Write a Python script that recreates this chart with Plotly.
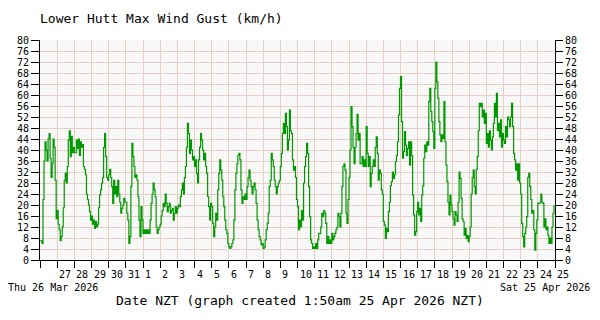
import pandas as pd
import plotly.graph_objects as go

TITLE = "Lower Hutt Max Wind Gust (km/h)"
X_TITLE = "Date NZT (graph created 1:50am 25 Apr 2026 NZT)"
START_LABEL = "Thu 26 Mar 2026"
END_LABEL = "Sat 25 Apr 2026"
START_DATE = "2026-03-26"
END_DATE = "2026-04-25"
PER_DAY = 17  # readings per day

day_labels = ["27", "28", "29", "30", "31", "1", "2", "3", "4", "5", "6", "7", "8", "9",
              "10", "11", "12", "13", "14", "15", "16", "17", "18", "19", "20", "21",
              "22", "23", "24", "25"]
y_ticks = list(range(0, 81, 4))

# gust readings (km/h), 17 per day from 26 Mar
d00 = [7, 7, 6, 22, 36, 43, 40, 36, 44, 46, 37, 30, 35, 44, 41, 29, 15]
d01 = [18, 13, 11, 7, 8.5, 12, 19, 29, 31.5, 28, 34, 43.6, 47, 37.6, 45, 39, 41]
d02 = [39, 39, 43.6, 40.6, 44, 38, 43, 41, 42, 34, 33, 31, 24, 22, 20, 17.6, 14.5]
d03 = [16, 13, 14.5, 11.5, 14, 12, 13, 19, 23.6, 25.5, 28, 30, 41, 46, 37.6, 30, 29]
d04 = [31, 33, 30, 26.7, 20.6, 29, 24, 26.7, 23, 29, 24, 21, 17, 18.8, 20, 22.4, 21]
d05 = [21, 17, 14.5, 6, 8.5, 26.7, 42.4, 37.6, 34, 30, 31, 29, 23, 14.5, 8.5, 19.4, 14.5]
d06 = [9.7, 11, 9.7, 11, 9.7, 11, 9.7, 14.5, 20.6, 24, 28, 25.5, 23, 12, 9.7, 11, 12]
d07 = [13, 16, 18, 20.6, 19.4, 24, 20.6, 17.6, 19.4, 20.6, 17, 18, 18.8, 14.5, 17, 19.4, 17]
d08 = [18.8, 20, 19.4, 23, 25.5, 28, 24, 30, 34, 41, 49.7, 46, 38.8, 43.6, 40, 36.4, 37.6]
d09 = [34, 36.4, 31.5, 28, 36.4, 41, 46, 43.6, 40, 36.4, 38.8, 34, 31.5, 23, 19.4, 14.5, 20.6]
d10 = [19.4, 13.3, 8.5, 12, 17, 14.5, 25.5, 31.5, 36.4, 32.7, 29, 23, 19.4, 14.5, 11, 9.7, 6]
d11 = [4.8, 4.2, 4.8, 6, 7.3, 14.5, 25.5, 31.5, 35, 38, 38.8, 36.4, 25.5, 20.6, 23, 22, 24]
d12 = [22, 26.7, 30, 32.7, 29, 26.7, 24, 26.7, 28, 25.5, 20.6, 14.5, 11, 8.5, 7.3, 5.5, 6]
d13 = [4.2, 4.8, 7.3, 11, 13.3, 17, 26.7, 29, 38.8, 36.4, 34, 29, 26.7, 24, 26.7, 28, 29]
d14 = [34, 38.8, 46, 49.7, 46, 53.3, 48.5, 40, 43.6, 54.5, 47, 46, 36.4, 32.7, 34, 30, 22]
d15 = [19.4, 11, 14.5, 12, 18, 14.5, 28, 34, 37.6, 42.4, 38.8, 26.7, 15.8, 7.3, 6, 4.2, 4.8]
d16 = [4.2, 6, 4.2, 7.3, 9.7, 9.7, 12, 17, 15.8, 18, 17, 13.3, 6, 8.5, 6, 7.3, 6]
d17 = [9.7, 7.3, 8.5, 9.7, 11, 12, 17, 15.8, 12, 17, 26.7, 34, 35, 32.7, 17, 13.3, 22]
d18 = [30, 40, 55.8, 48.5, 41, 35, 41, 46, 53, 43.6, 46, 35, 35, 37.6, 34, 36.4, 34]
d19 = [48.5, 38.8, 34, 37.6, 26.7, 31.5, 34, 36.4, 34, 41, 44.8, 38.8, 29, 32.7, 31.5, 25.5, 24]
d20 = [14, 12.7, 7.9, 11.5, 10.3, 17.6, 21, 27, 28.5, 32, 29.7, 31, 35.8, 38, 43, 52.7, 62.4]
d21 = [66.7, 50.3, 37, 39.4, 46.7, 41.8, 38, 40.6, 43, 34.5, 43, 38, 23.6, 16.4, 9, 10.3, 17.6]
d22 = [21, 16.4, 18.8, 14, 23.6, 27, 37, 41.8, 39.4, 43, 41.8, 57.6, 62.4, 54, 50.3, 46.7, 40.6]
d23 = [62.4, 72, 64.8, 58.8, 50.3, 45.5, 43, 45.5, 44.2, 57.6, 43, 34.5, 28.5, 21, 16.4, 23.6, 20]
d24 = [17.6, 15, 12.7, 17.6, 16.4, 14, 21, 32, 29.7, 22.4, 15, 14, 9, 11.5, 7.9, 9, 6.7]
d25 = [8.5, 12, 24, 30, 32.7, 26.7, 24, 33, 37.6, 47, 57, 55.8, 57, 52, 54.5, 49.7, 53.3]
d26 = [42.4, 46, 41, 47, 43.6, 40, 44.8, 49.7, 57, 52, 60.6, 47, 49.7, 44.8, 51, 41, 46]
d27 = [43.6, 42.4, 48.5, 44.8, 52, 51, 48.5, 52, 57, 48.5, 38.8, 36.4, 32.7, 35, 29, 35, 28]
d28 = [24, 13.3, 8.5, 4.8, 9.7, 12, 15.8, 30, 31.5, 26.7, 22, 17, 18, 11, 3.6, 9.7, 14.5]
d29 = [20.6, 20.6, 21, 24, 21, 20.6, 12, 15, 11, 12, 9, 6, 8, 6, 12, 17, 20]

days = [d00, d01, d02, d03, d04, d05, d06, d07, d08, d09, d10, d11, d12, d13, d14,
        d15, d16, d17, d18, d19, d20, d21, d22, d23, d24, d25, d26, d27, d28, d29]
gust = [v for d in days for v in d]
times = pd.date_range(START_DATE, periods=len(gust), freq=pd.Timedelta(minutes=1440 / PER_DAY))
label_dates = pd.date_range("2026-03-27", periods=len(day_labels), freq="D")

MONO = "DejaVu Sans Mono"
GRID = "#e6cfc4"

fig = go.Figure()
fig.add_trace(go.Scatter(x=times, y=gust, mode="lines",
                         line=dict(color="#009900", width=1.2, shape="hv"), showlegend=False,
                         hoverinfo="skip"))
fig.add_trace(go.Scatter(x=[], y=[], yaxis="y2", showlegend=False))

fig.update_layout(
    width=600, height=320,
    margin=dict(l=40, r=45, t=40, b=60),
    paper_bgcolor="white", plot_bgcolor="#f8f8f8",
    title=dict(text=TITLE, x=40 / 600, y=1 - 18 / 320, xref="container", yref="container",
               xanchor="left", yanchor="middle",
               font=dict(family=MONO, size=13, color="black")),
    xaxis=dict(type="date", range=[START_DATE, END_DATE], tick0=START_DATE,
               dtick=86400000, showticklabels=False, ticks="outside", ticklen=7,
               tickcolor="black", showline=True, linecolor="black", linewidth=1,
               showgrid=True, gridcolor=GRID, gridwidth=1, zeroline=False),
    yaxis=dict(range=[0, 80], tickvals=y_ticks, ticks="outside", ticklen=8,
               tickcolor="black", showline=True, linecolor="black", linewidth=1,
               showgrid=True, gridcolor=GRID, gridwidth=1, zeroline=False,
               tickfont=dict(family=MONO, size=10, color="black")),
    yaxis2=dict(range=[0, 80], tickvals=y_ticks, overlaying="y", side="right",
                ticks="outside", ticklen=7, tickcolor="black", showline=True,
                linecolor="black", linewidth=1, showgrid=False, zeroline=False,
                tickfont=dict(family=MONO, size=10, color="black")),
)

for d, lab in zip(label_dates, day_labels):
    fig.add_annotation(x=d, y=0, xref="x", yref="paper", text=lab, showarrow=False,
                       xanchor="left", yanchor="top", yshift=-7,
                       font=dict(family=MONO, size=10, color="black"))
fig.add_annotation(x=(6 - 40) / 515, y=(260 - 287) / 220, xref="paper", yref="paper",
                   text=START_LABEL, showarrow=False, xanchor="left", yanchor="middle",
                   font=dict(family=MONO, size=10, color="black"))
fig.add_annotation(x=(592 - 40) / 515, y=(260 - 287) / 220, xref="paper", yref="paper",
                   text=END_LABEL, showarrow=False, xanchor="right", yanchor="middle",
                   font=dict(family=MONO, size=10, color="black"))
fig.add_annotation(x=(300 - 40) / 515, y=(260 - 300) / 220, xref="paper", yref="paper",
                   text=X_TITLE, showarrow=False, xanchor="center", yanchor="middle",
                   font=dict(family=MONO, size=13, color="black"))

fig.write_html("out.html")
